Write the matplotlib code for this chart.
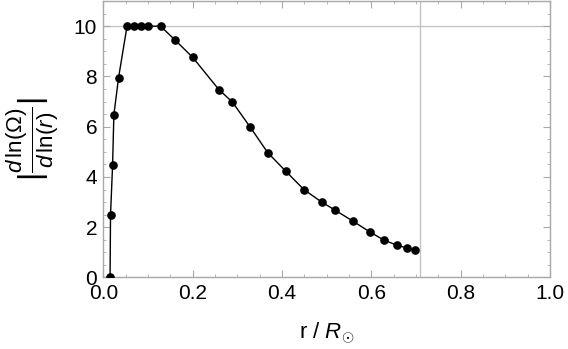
import matplotlib
matplotlib.use("Agg")
import matplotlib.pyplot as plt
from matplotlib.ticker import MultipleLocator

r = [0.015, 0.016, 0.0206, 0.0235, 0.034, 0.053, 0.068, 0.084, 0.0997, 0.128,
     0.160, 0.200, 0.259, 0.289, 0.329, 0.368, 0.409, 0.449, 0.489, 0.518,
     0.559, 0.598, 0.628, 0.658, 0.679, 0.699]
slope = [0.0, 2.48, 4.46, 6.47, 7.95, 10.0, 10.0, 10.0, 10.0, 10.0,
         9.46, 8.76, 7.47, 6.98, 5.98, 4.97, 4.22, 3.50, 3.0, 2.69,
         2.24, 1.80, 1.49, 1.28, 1.18, 1.08]
r_bcz = 0.710
cap = 10.0
xticks = [0.0, 0.2, 0.4, 0.6, 0.8, 1.0]
yticks = [0, 2, 4, 6, 8, 10]

plt.rcParams['font.family'] = ['Liberation Sans', 'DejaVu Sans']
plt.rcParams['mathtext.fontset'] = 'custom'
plt.rcParams['mathtext.rm'] = 'Liberation Sans'
plt.rcParams['mathtext.it'] = 'Liberation Sans:italic'
plt.rcParams['mathtext.bf'] = 'Liberation Sans:bold'

fig = plt.figure(figsize=(5.68, 3.49), dpi=100)
ax = fig.add_axes([0.182, 0.205, 0.786, 0.792])

frame = '#a8a8a8'
ax.axhline(cap, color='#c4c4c4', lw=1.0, zorder=1)
ax.axvline(r_bcz, color='#c4c4c4', lw=1.0, zorder=1)
ax.plot(r, slope, color='black', lw=1.0, marker='o', markersize=5.2, zorder=3)

ax.set_xlim(0, 1.0)
ax.set_ylim(0, 11)
ax.set_xticks(xticks)
ax.set_xticklabels([f"{v:.1f}" for v in xticks])
ax.set_yticks(yticks)
ax.set_yticklabels([str(v) for v in yticks])
ax.xaxis.set_minor_locator(MultipleLocator(0.05))
ax.yaxis.set_minor_locator(MultipleLocator(0.5))

for s in ax.spines.values():
    s.set_color(frame)
    s.set_linewidth(1.0)
ax.tick_params(which='both', direction='in', top=True, right=True, color=frame,
               labelsize=15, labelcolor='black')
ax.tick_params(which='major', length=5, width=0.8)
ax.tick_params(axis='y', which='major', pad=4.5)
ax.tick_params(axis='x', which='major', pad=5)
ax.tick_params(which='minor', length=2.5, width=0.6)

ax.set_xlabel(r'r / $R_{\odot}$', fontsize=16, color='black', labelpad=12)
ax.set_ylabel(r'$|\frac{d\,\mathrm{ln}(\Omega)}{d\,\mathrm{ln}(r)}|$',
              fontsize=23, color='black', labelpad=9)

fig.savefig('out.png', dpi=100)
